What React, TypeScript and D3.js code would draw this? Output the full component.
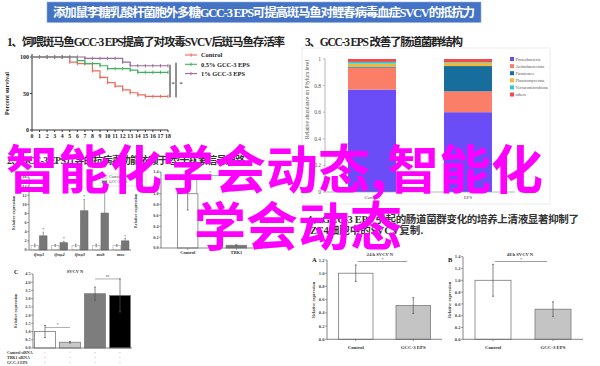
import React from 'react';
import * as d3 from 'd3';

// ---------- text ----------
const titleText = '添加鼠李糖乳酸杆菌胞外多糖GCC-3 EPS可提高斑马鱼对鲤春病毒血症SVCV的抵抗力';
const heading1 = '1、饲喂斑马鱼GCC-3 EPS提高了对攻毒SVCV后斑马鱼存活率';
const heading2 = '2、GCC-3 EPS介导的抗病毒功能依赖于I型干扰素信号通路';
const heading3 = '3、GCC-3 EPS 改善了肠道菌群结构';
const heading4a = '4、GCC-3 EPS 引起的肠道菌群变化的培养上清液显著抑制了';
const heading4b = 'ZF4细胞中的SVCV复制.';
const overlayLine1 = '智能化学会动态,智能化';
const overlayLine2 = '学会动态';

// ---------- panel 1: survival ----------
const dayTicks = [0, 1, 2, 3, 4, 5, 6, 7, 8, 9, 10, 11, 12, 13, 14, 15, 16, 17, 18];
const survivalTicks = [0, 50, 100];
const survivalGroups = ['Control', '0.5% GCC-3 EPS', '1% GCC-3 EPS'];
const survivalColors = ['#F06A5E', '#3DB45A', '#9A6A9C'];
const controlSurvival: [number, number][] = [
  [0, 100], [5, 93], [6, 91], [8, 81], [9, 72], [10, 65], [11, 60], [12, 55], [13, 51], [14, 48], [15, 46], [18, 46],
];
const lowDoseSurvival: [number, number][] = [
  [0, 100], [6, 95], [7, 91], [9, 88], [10, 84], [13, 82], [14, 79], [18, 79],
];
const highDoseSurvival: [number, number][] = [
  [0, 100], [7, 98], [12, 93], [13, 88], [18, 88],
];

// ---------- panel 3: phylum composition ----------
const phyla = ['Proteobacteria', 'Actinobacteriota', 'Firmicutes', 'Planctomycetota', 'Verrucomicrobiota', 'others'];
const phylaColors = ['#6A4DF7', '#FA7E68', '#176E9C', '#F7B632', '#2CCBD3', '#EE4A50'];
const phylumGroups = ['Control', 'EPS'];
const abundanceControl = [0.77, 0.165, 0.008, 0.022, 0.013, 0.022];
const abundanceEPS = [0.6, 0.157, 0.19, 0.025, 0.005, 0.023];
const abundanceTicks = [0, 0.2, 0.4, 0.6, 0.8, 1];

// ---------- panel 2: interferon genes ----------
const genes = ['ifnφ1', 'ifnφ2', 'ifnφ3', 'mxb', 'mxc'];
const geneTreatments = ['Control', 'GCC-3 EPS'];
const geneControl = [1, 1, 1, 1, 1];
const geneControlErr = [0.3, 0.2, 0.3, 0.3, 0.2];
const geneEPS = [3.1, 1.6, 8.6, 8.1, 2.0];
const geneEPSErr = [0.8, 0.3, 2.5, 4.6, 0.5];
const geneTicks = [0, 2, 4, 6, 8, 10, 12, 14, 16];

const tbkGroups = ['Control', 'TBK1'];
const tbkValues = [1.0, 0.05];
const tbkErr = [0.3, 0.01];
const tbkTicks = [0, 0.2, 0.4, 0.6, 0.8, 1.0, 1.2, 1.4];

const knockGroups = ['g1', 'g2', 'g3', 'g4'];
const knockValues = [1.0, 0.35, 3.3, 3.2];
const knockErr = [0.37, 0.05, 0.4, 1.0];
const knockFills = ['#ffffff', '#c8c8c8', '#7d7d7d', '#000000'];
const knockTicks = [0, 0.5, 1.0, 1.5, 2.0, 2.5, 3.0, 3.5, 4.0, 4.5];
const knockRows = ['Control siRNA', 'TBK1 siRNA', 'GCC-3 EPS'];
const knockSigns = [
  ['+', '+', '-', '-'],
  ['-', '-', '+', '+'],
  ['-', '+', '-', '+'],
];

// ---------- panel 4: SVCV N expression ----------
const nGroups = ['Control', 'GCC-3 EPS'];
const n24Values = [1.0, 0.51];
const n24Err = [0.125, 0.12];
const n24Ticks = [0, 0.2, 0.4, 0.6, 0.8, 1.0, 1.2];
const n48Values = [1.0, 0.51];
const n48Err = [0.27, 0.125];
const n48Ticks = [0, 0.2, 0.4, 0.6, 0.8, 1.0, 1.2, 1.4];
const nFills = ['#ffffff', '#c4c4c4'];

const SERIF = '"Liberation Serif","DejaVu Serif","Noto Sans CJK SC",serif';
const CJK = '"Noto Sans CJK SC","Noto Sans CJK JP",sans-serif';

function valueAt(s: [number, number][], day: number) {
  let v = s[0][1];
  for (const [d, p] of s) if (d <= day) v = p;
  return v;
}

function Survival() {
  const x = d3.scaleLinear().domain([0, 18]).range([32, 168]);
  const y = d3.scaleLinear().domain([0, 100]).range([130, 57]);
  const line = d3.line<[number, number]>().x(d => x(d[0])).y(d => y(d[1])).curve(d3.curveStepAfter);
  const series = [controlSurvival, lowDoseSurvival, highDoseSurvival];
  const endHigh = valueAt(highDoseSurvival, 18);
  const endCtrl = valueAt(controlSurvival, 18);
  return (
    <g fontFamily={SERIF}>
      <line x1={x(0)} x2={x(0)} y1={y(0)} y2={y(100) - 3} stroke="#333" strokeWidth={1} />
      <line x1={x(0)} x2={x(18)} y1={y(0)} y2={y(0)} stroke="#333" strokeWidth={1} />
      {survivalTicks.map(t => (
        <g key={t}>
          <line x1={x(0) - 2} x2={x(0)} y1={y(t)} y2={y(t)} stroke="#333" />
          <text x={x(0) - 3} y={y(t)} dy="0.35em" textAnchor="end" fontSize={6} fontWeight="bold" fill="#222">{t}</text>
        </g>
      ))}
      {dayTicks.map(d => (
        <g key={d}>
          <line x1={x(d)} x2={x(d)} y1={y(0)} y2={y(0) + 2} stroke="#333" />
          <text x={x(d)} y={y(0) + 8} textAnchor="middle" fontSize={5.8} fontWeight="bold" fill="#222">{d}</text>
        </g>
      ))}
      <text transform={`translate(9,${(y(0) + y(100)) / 2}) rotate(-90)`} textAnchor="middle" fontSize={6.2} fontWeight="bold" fill="#222">Percent survival</text>
      {series.map((s, i) => (
        <g key={i}>
          <path d={line(s) || ''} fill="none" stroke={survivalColors[i]} strokeWidth={1.2} />
          {dayTicks.map(d => (
            <line key={d} x1={x(d)} x2={x(d)} y1={y(valueAt(s, d)) - 1.8} y2={y(valueAt(s, d)) + 1.8} stroke={survivalColors[i]} strokeWidth={0.9} />
          ))}
        </g>
      ))}
      <line x1={x(18) + 2} x2={x(18) + 2} y1={y(endHigh) - 1} y2={y(endCtrl) + 1} stroke="#222" strokeWidth={1} />
      <text x={x(18) + 5} y={y((endHigh + endCtrl) / 2) + 5} textAnchor="middle" fontSize={7} fill="#222">*</text>
      <line x1={x(18) + 8} x2={x(18) + 8} y1={y(endHigh) - 3} y2={y(endCtrl) + 1} stroke="#222" strokeWidth={1} />
      <text x={x(18) + 13} y={y((endHigh + endCtrl) / 2) + 5} textAnchor="middle" fontSize={7} fill="#222">*</text>
      {survivalGroups.map((g, i) => (
        <g key={g} transform={`translate(185,${55 + i * 9.3})`}>
          <line x1={0} x2={12} y1={0} y2={0} stroke={survivalColors[i]} strokeWidth={1.1} />
          <line x1={6} x2={6} y1={-1.8} y2={1.8} stroke={survivalColors[i]} strokeWidth={0.9} />
          <text x={16} y={0} dy="0.35em" fontSize={6.4} fontWeight="bold" fill="#222">{g}</text>
        </g>
      ))}
    </g>
  );
}

function Phylum() {
  const x = d3.scaleBand<string>().domain(phylumGroups).range([325, 515]).paddingInner(0.5).paddingOuter(0.24);
  const y = d3.scaleLinear().domain([0, 1]).range([192, 59]);
  const rows = [abundanceControl, abundanceEPS];
  const stack = rows.map(r => {
    let acc = 0;
    return r.map(v => { const s = [acc, acc + v]; acc += v; return s; });
  });
  return (
    <g fontFamily={SERIF}>
      <rect x={302} y={48} width={248} height={156} fill="#fff" stroke="#ececec" strokeWidth={1} />
      {stack.map((segs, gi) => (
        <g key={gi}>
          {segs.map((s, si) => (
            <rect key={si} x={x(phylumGroups[gi])} width={x.bandwidth()} y={y(s[1])} height={y(s[0]) - y(s[1])} fill={phylaColors[si]} />
          ))}
        </g>
      ))}
      <line x1={325} x2={325} y1={y(0)} y2={y(1)} stroke="#999" strokeWidth={0.7} />
      <line x1={325} x2={515} y1={y(0)} y2={y(0)} stroke="#999" strokeWidth={0.7} />
      {abundanceTicks.map(t => (
        <g key={t}>
          <line x1={323} x2={325} y1={y(t)} y2={y(t)} stroke="#999" strokeWidth={0.7} />
          <text x={321} y={y(t)} dy="0.35em" textAnchor="end" fontSize={5.5} fill="#555">{t}</text>
        </g>
      ))}
      {phylumGroups.map(g => (
        <text key={g} x={(x(g) || 0) + x.bandwidth() / 2} y={199} textAnchor="middle" fontSize={5} fill="#555">{g}</text>
      ))}
      <text transform="translate(309,60) rotate(-90)" textAnchor="end" fontSize={5.4} fill="#555">Relative abundance on Phylum level</text>
      {phyla.map((p, i) => (
        <g key={p} transform={`translate(510,${59 + i * 7.1})`}>
          <rect x={0} y={-2} width={4} height={4} fill={phylaColors[i]} />
          <text x={5.5} y={0} dy="0.35em" fontSize={4.3} fill="#555">{p}</text>
        </g>
      ))}
    </g>
  );
}

type BarCfg = {
  x0: number; x1: number; yBase: number; yTop: number; max: number;
  ticks: number[]; fmt: (v: number) => string;
  groups: string[]; values: number[]; errs: number[]; fills: string[];
  pIn: number; pOut: number; fontSize: number; stroke: string;
};

function ErrorBar({ cx, y1, y2, cap, color }: { cx: number; y1: number; y2: number; cap: number; color: string }) {
  return (
    <g stroke={color} strokeWidth={0.7}>
      <line x1={cx} x2={cx} y1={y1} y2={y2} />
      <line x1={cx - cap} x2={cx + cap} y1={y1} y2={y1} />
      <line x1={cx - cap} x2={cx + cap} y1={y2} y2={y2} />
    </g>
  );
}

function useBars(c: BarCfg) {
  const x = d3.scaleBand<string>().domain(c.groups).range([c.x0, c.x1]).paddingInner(c.pIn).paddingOuter(c.pOut);
  const y = d3.scaleLinear().domain([0, c.max]).range([c.yBase, c.yTop]);
  return { x, y };
}

function BarAxes({ c, y }: { c: BarCfg; y: d3.ScaleLinear<number, number> }) {
  return (
    <g>
      <line x1={c.x0} x2={c.x0} y1={c.yBase} y2={c.yTop} stroke={c.stroke} strokeWidth={0.8} />
      <line x1={c.x0} x2={c.x1} y1={c.yBase} y2={c.yBase} stroke={c.stroke} strokeWidth={0.8} />
      {c.ticks.map(t => (
        <g key={t}>
          <line x1={c.x0 - 1.8} x2={c.x0} y1={y(t)} y2={y(t)} stroke={c.stroke} strokeWidth={0.7} />
          <text x={c.x0 - 2.5} y={y(t)} dy="0.35em" textAnchor="end" fontSize={c.fontSize} fontWeight="bold" fill="#444">{c.fmt(t)}</text>
        </g>
      ))}
    </g>
  );
}

function SimpleBars({ c, xLabels, labelY }: { c: BarCfg; xLabels: boolean; labelY: number }) {
  const { x, y } = useBars(c);
  return (
    <g fontFamily={SERIF}>
      {c.groups.map((g, i) => {
        const bx = x(g) || 0;
        const cx = bx + x.bandwidth() / 2;
        return (
          <g key={g}>
            <rect x={bx} y={y(c.values[i])} width={x.bandwidth()} height={c.yBase - y(c.values[i])} fill={c.fills[i]} stroke="#7a7a7a" strokeWidth={0.8} />
            <ErrorBar cx={cx} y1={y(c.values[i] + c.errs[i])} y2={y(Math.max(0, c.values[i] - c.errs[i]))} cap={1} color="#555" />
            {xLabels && (
              <g>
                <line x1={cx} x2={cx} y1={c.yBase} y2={c.yBase + 1.8} stroke={c.stroke} strokeWidth={0.7} />
                <text x={cx} y={labelY} textAnchor="middle" fontSize={c.fontSize + 0.3} fontWeight="bold" fill="#333">{g}</text>
              </g>
            )}
          </g>
        );
      })}
      <BarAxes c={c} y={y} />
    </g>
  );
}

function GeneBars() {
  const x = d3.scaleBand<string>().domain(genes).range([29, 131]).paddingInner(0.22).paddingOuter(0.1);
  const inner = d3.scaleBand<string>().domain(geneTreatments).range([0, x.bandwidth()]).paddingInner(0.12);
  const y = d3.scaleLinear().domain([0, 16]).range([250, 177]);
  const c: BarCfg = {
    x0: 29, x1: 131, yBase: 250, yTop: 177, max: 16, ticks: geneTicks, fmt: v => String(v),
    groups: genes, values: geneEPS, errs: geneEPSErr, fills: [], pIn: 0, pOut: 0, fontSize: 4.2, stroke: '#666',
  };
  return (
    <g fontFamily={SERIF}>
      {genes.map((g, i) => {
        const gx = x(g) || 0;
        const vals = [geneControl[i], geneEPS[i]];
        const errs = [geneControlErr[i], geneEPSErr[i]];
        return (
          <g key={g}>
            {geneTreatments.map((t, j) => {
              const bx = gx + (inner(t) || 0);
              const cx = bx + inner.bandwidth() / 2;
              return (
                <g key={t}>
                  <rect x={bx} y={y(vals[j])} width={inner.bandwidth()} height={250 - y(vals[j])} fill={j === 0 ? '#fff' : '#777'} stroke={j === 0 ? '#aaa' : '#666'} strokeWidth={0.6} />
                  <ErrorBar cx={cx} y1={y(vals[j] + errs[j])} y2={y(Math.max(0, vals[j] - errs[j]))} cap={0.8} color="#777" />
                  {j === 1 && <text x={cx} y={y(vals[j] + errs[j]) - 1} textAnchor="middle" fontSize={4.5} fill="#555">*</text>}
                </g>
              );
            })}
            <text x={gx + x.bandwidth() / 2} y={255.5} textAnchor="middle" fontSize={4.6} fontStyle="italic" fontWeight="bold" fill="#333">{g}</text>
          </g>
        );
      })}
      <BarAxes c={c} y={y} />
      <text transform="translate(15,213) rotate(-90)" textAnchor="middle" fontSize={4.2} fontWeight="bold" fill="#444">Relative expression</text>
      <rect x={100} y={174} width={46} height={12} fill="#fff" stroke="#ccc" strokeWidth={0.5} />
      {geneTreatments.map((t, j) => (
        <g key={t} transform={`translate(102,${177 + j * 5})`}>
          <rect x={0} y={-1.3} width={5} height={2.6} fill={j === 0 ? '#fff' : '#777'} stroke="#888" strokeWidth={0.4} />
          <text x={7} y={0} dy="0.35em" fontSize={3.8} fill="#444">{t}</text>
        </g>
      ))}
    </g>
  );
}

function TbkBars() {
  const c: BarCfg = {
    x0: 161, x1: 263, yBase: 248, yTop: 172, max: 1.4, ticks: tbkTicks, fmt: d3.format('.1f'),
    groups: tbkGroups, values: tbkValues, errs: tbkErr, fills: ['#fff', '#777'], pIn: 0.58, pOut: 0.34, fontSize: 4.2, stroke: '#666',
  };
  const { x, y } = useBars(c);
  const cx0 = (x(tbkGroups[0]) || 0) + x.bandwidth() / 2;
  const cx1 = (x(tbkGroups[1]) || 0) + x.bandwidth() / 2;
  const by = y(tbkValues[0] + tbkErr[0]) - 2;
  return (
    <g fontFamily={SERIF}>
      <SimpleBars c={c} xLabels labelY={254} />
      <path d={`M${cx0 + 9},${y(tbkValues[0])} V${by} H${cx1} V${by + 3}`} fill="none" stroke="#777" strokeWidth={0.6} />
      <text x={(cx0 + cx1) / 2 - 2} y={by - 1} textAnchor="middle" fontSize={4.5} fill="#555">*</text>
      <text transform="translate(137,211) rotate(-90)" textAnchor="middle" fontSize={4.2} fontWeight="bold" fill="#444">Relative expression</text>
    </g>
  );
}

function KnockBars() {
  const c: BarCfg = {
    x0: 33, x1: 132, yBase: 348, yTop: 274, max: 4.5, ticks: knockTicks, fmt: d3.format('.1f'),
    groups: knockGroups, values: knockValues, errs: knockErr, fills: knockFills, pIn: 0.16, pOut: 0.06, fontSize: 4.2, stroke: '#666',
  };
  const { x, y } = useBars(c);
  const cxs = knockGroups.map(g => (x(g) || 0) + x.bandwidth() / 2);
  const b1 = y(knockValues[0] + knockErr[0]) + 2;
  const b2 = y(knockValues[3] + knockErr[3]);
  return (
    <g fontFamily={SERIF}>
      <SimpleBars c={c} xLabels={false} labelY={0} />
      <line x1={cxs[0]} x2={cxs[1]} y1={b1} y2={b1} stroke="#777" strokeWidth={0.6} />
      <text x={(cxs[0] + cxs[1]) / 2} y={b1 - 1.5} textAnchor="middle" fontSize={4.5} fill="#555">*</text>
      <line x1={cxs[2]} x2={cxs[3]} y1={b2} y2={b2} stroke="#777" strokeWidth={0.6} />
      <text x={(cxs[2] + cxs[3]) / 2} y={b2 - 1.5} textAnchor="middle" fontSize={4} fill="#555">ns</text>
      <text x={14} y={274} fontSize={6} fontWeight="bold" fill="#222">C</text>
      <text x={75} y={273} textAnchor="middle" fontSize={4.5} fontWeight="bold" fill="#333">SVCV N</text>
      <text transform="translate(17,311) rotate(-90)" textAnchor="middle" fontSize={4.2} fontWeight="bold" fill="#444">Relative expression</text>
      {knockRows.map((r, ri) => (
        <g key={r}>
          <text x={7} y={353 + ri * 4.7} dy="0.35em" fontSize={4} fontWeight="bold" fill="#333">{r}</text>
          {knockSigns[ri].map((s, si) => (
            <text key={si} x={cxs[si]} y={353 + ri * 4.7} dy="0.35em" textAnchor="middle" fontSize={4} fill="#333">{s}</text>
          ))}
        </g>
      ))}
    </g>
  );
}

function NPanel({ letter, title, values, errs, ticks, max, x0, x1, yTop, titleX }: {
  letter: string; title: string; values: number[]; errs: number[]; ticks: number[]; max: number;
  x0: number; x1: number; yTop: number; titleX: number;
}) {
  const c: BarCfg = {
    x0, x1, yBase: 339.3, yTop, max, ticks, fmt: d3.format('.1f'),
    groups: nGroups, values, errs, fills: nFills, pIn: 0.4, pOut: 0.2, fontSize: 4.6, stroke: '#666',
  };
  const { x, y } = useBars(c);
  const cx0 = (x(nGroups[0]) || 0) + x.bandwidth() / 2;
  const cx1 = (x(nGroups[1]) || 0) + x.bandwidth() / 2;
  const by = 261.5;
  return (
    <g fontFamily={SERIF}>
      <SimpleBars c={c} xLabels labelY={349} />
      <line x1={cx0 + 2} x2={cx1 - 6} y1={by} y2={by} stroke="#777" strokeWidth={0.7} />
      <text x={(cx0 + cx1) / 2 - 2} y={by - 1} textAnchor="middle" fontSize={4.5} fill="#555">*</text>
      <text x={x0 - 15} y={262} fontSize={6.5} fontWeight="bold" fill="#222">{letter}</text>
      <text x={titleX} y={255.5} textAnchor="middle" fontSize={4.6} fontWeight="bold" fill="#333">{title}</text>
      <text transform={`translate(${x0 - 12},300) rotate(-90)`} textAnchor="middle" fontSize={4.4} fontWeight="bold" fill="#444">Relative expression</text>
    </g>
  );
}

export default function App() {
  return (
    <svg width={600} height={366} viewBox="0 0 600 366" style={{ position: 'absolute', left: 0, top: 0, display: 'block', background: '#fff' }}>
      <rect x={0} y={0} width={600} height={366} fill="#fff" />
      <rect x={47} y={2} width={434} height={20.5} fill="#4472C4" stroke="#8fb0e6" strokeWidth={0.6} />
      <text x={53} y={16.5} fontFamily={SERIF} fontSize={12.5} fontWeight="bold" fill="#fff" textLength={422}>{titleText}</text>

      <text x={7} y={45.5} fontFamily={SERIF} fontSize={11.5} fontWeight="bold" fill="#222" textLength={278}>{heading1}</text>
      <text x={305} y={45.5} fontFamily={SERIF} fontSize={11.5} fontWeight="bold" fill="#222" textLength={158}>{heading3}</text>

      <Survival />
      <Phylum />

      <text x={7} y={164} fontFamily={SERIF} fontSize={10} fontWeight="bold" fill="#333" textLength={238}>{heading2}</text>
      <GeneBars />
      <TbkBars />
      <KnockBars />

      <text x={307} y={222.5} fontFamily={SERIF} fontSize={10.5} fontWeight="bold" fill="#333" textLength={272}>{heading4a}</text>
      <text x={310} y={234} fontFamily={SERIF} fontSize={10.5} fontWeight="bold" fill="#333" textLength={113}>{heading4b}</text>

      <NPanel letter="A" title="24 h SVCV N" values={n24Values} errs={n24Err} ticks={n24Ticks} max={1.2} x0={327} x1={442} yTop={260} titleX={380} />
      <NPanel letter="B" title="48 h SVCV N" values={n48Values} errs={n48Err} ticks={n48Ticks} max={1.4} x0={463} x1={583} yTop={256.7} titleX={520} />

      <g fontFamily={CJK} fontWeight={700} fontSize={52} fill="#FF00FF">
        <text x={6} y={189}>{overlayLine1}</text>
        <text x={194} y={245.5}>{overlayLine2}</text>
      </g>
    </svg>
  );
}
